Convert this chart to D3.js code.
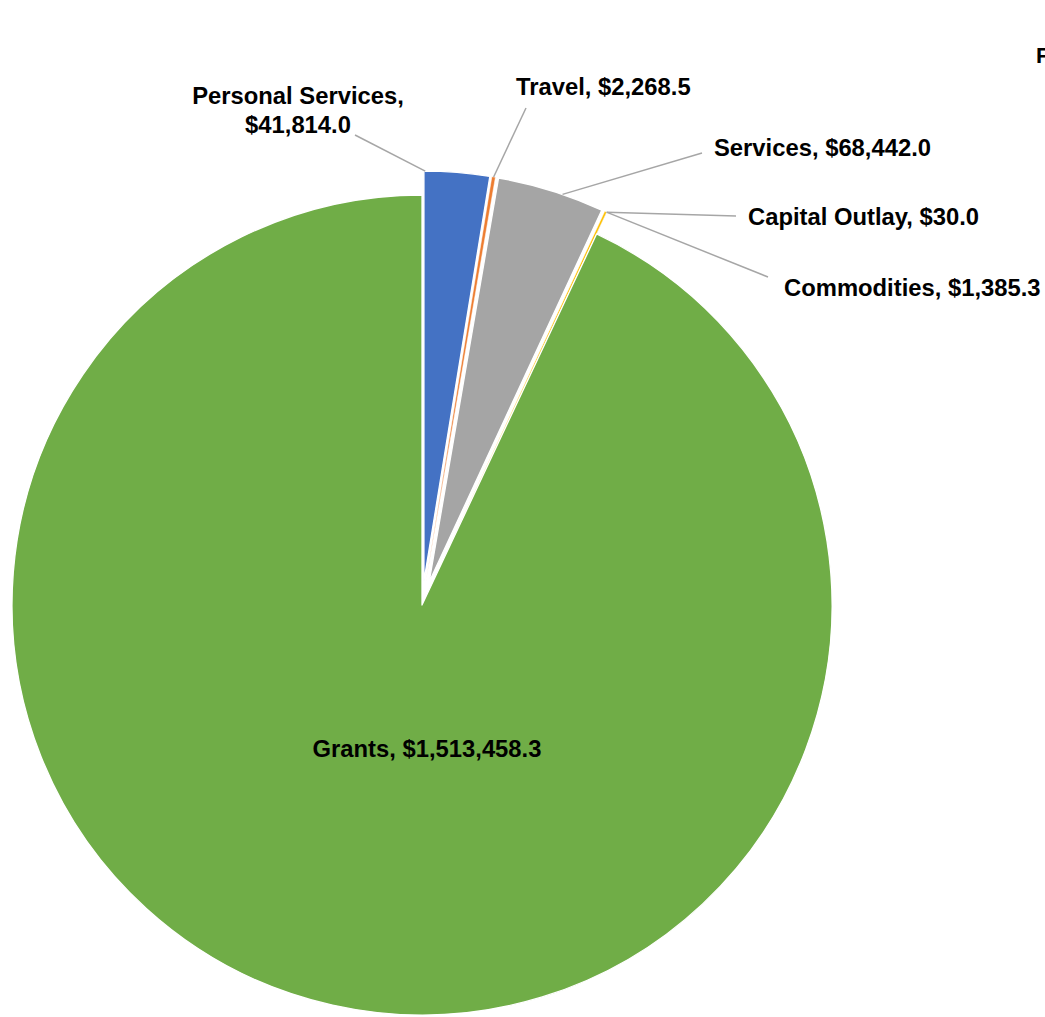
<!DOCTYPE html>
<html>
<head>
<meta charset="utf-8">
<script src="https://cdn.jsdelivr.net/npm/d3@7"></script>
<style>
  html, body { margin: 0; padding: 0; background: #fff; }
  svg { display: block; }
  .label { font-family: "Liberation Sans", Arial, sans-serif; font-weight: bold; font-size: 23.8px; fill: #000; }
  .leader { stroke: #a6a6a6; stroke-width: 1.5; fill: none; }
</style>
</head>
<body>
<svg id="chart" width="1045" height="1017"></svg>
<script>
// data, in drawing order (clockwise from 12 o'clock)
const categories = ["Personal Services", "Travel", "Services", "Commodities", "Capital Outlay", "Grants"];
const amounts = [41814.0, 2268.5, 68442.0, 1385.3, 30.0, 1513458.3];
const colors = ["#4472C4", "#ED7D31", "#A5A5A5", "#FFC000", "#5B9BD5", "#70AD47"];
const exploded = [true, true, true, true, true, false];

// label layout: text position, line breaks, where the leader leaves the text,
// and where along the slice (0 = start edge, 1 = end edge) it touches
const labelLayout = [
  { x: 298, y: 104, anchor: "middle", lines: 2, from: [355, 135], t: 0.02 },
  { x: 516, y: 95, anchor: "start", lines: 1, from: [526, 108], t: 0.5 },
  { x: 714, y: 156, anchor: "start", lines: 1, from: [702, 153], t: 0.61 },
  { x: 784, y: 296, anchor: "start", lines: 1, from: [768, 277], t: 0.9 },
  { x: 748, y: 225, anchor: "start", lines: 1, from: [736, 216], t: 0.5 },
  { x: 427, y: 757, anchor: "middle", lines: 1, from: null, t: 0.5 },
];

const svg = d3.select("#chart");
const cx = 422;
const cy = 605;
const radius = 410;
const explode = 24;

const fmt = d3.format(",.1f");
const slices = d3.pie().sort(null).value((d) => d.amount)(
  categories.map((name, i) => ({ name, amount: amounts[i], i })),
);

const arc = d3.arc().innerRadius(0).outerRadius(radius);

function offsetFor(slice) {
  if (!exploded[slice.data.i]) return [0, 0];
  const mid = (slice.startAngle + slice.endAngle) / 2;
  return [Math.sin(mid) * explode, -Math.cos(mid) * explode];
}

// thin slices get a thinner border so their colour still shows;
// a slice too thin to see gets none, so it does not hide its neighbour
function borderFor(slice) {
  const span = slice.endAngle - slice.startAngle;
  if (span < 0.001) return 0;
  if (span < 0.02) return 0.5;
  return 1.3;
}

const pieLayer = svg.append("g").attr("transform", `translate(${cx},${cy})`);

pieLayer
  .selectAll("path")
  .data(slices)
  .join("path")
  .attr("transform", (s) => `translate(${offsetFor(s)})`)
  .attr("d", arc)
  .attr("fill", (s) => colors[s.data.i])
  .attr("stroke", "#fff")
  .attr("stroke-width", borderFor)
  .attr("stroke-linejoin", "round");

// leader lines
const leaders = slices.filter((s) => labelLayout[s.data.i].from);
svg
  .append("g")
  .selectAll("line")
  .data(leaders)
  .join("line")
  .attr("class", "leader")
  .attr("x1", (s) => labelLayout[s.data.i].from[0])
  .attr("y1", (s) => labelLayout[s.data.i].from[1])
  .attr("x2", (s) => {
    const a = s.startAngle + (s.endAngle - s.startAngle) * labelLayout[s.data.i].t;
    return cx + offsetFor(s)[0] + Math.sin(a) * radius;
  })
  .attr("y2", (s) => {
    const a = s.startAngle + (s.endAngle - s.startAngle) * labelLayout[s.data.i].t;
    return cy + offsetFor(s)[1] - Math.cos(a) * radius;
  });

// data labels
const labels = svg
  .append("g")
  .selectAll("text")
  .data(slices)
  .join("text")
  .attr("class", "label")
  .attr("x", (s) => labelLayout[s.data.i].x)
  .attr("y", (s) => labelLayout[s.data.i].y)
  .attr("text-anchor", (s) => labelLayout[s.data.i].anchor);

labels.each(function (s) {
  const layout = labelLayout[s.data.i];
  const value = `$${fmt(s.data.amount)}`;
  const text = d3.select(this);
  if (layout.lines === 2) {
    text.append("tspan").attr("x", layout.x).text(`${s.data.name},`);
    text.append("tspan").attr("x", layout.x).attr("dy", 28.5).text(value);
  } else {
    text.text(`${s.data.name}, ${value}`);
  }
});

// chart title, cut off by the right edge of the picture as in the original
svg
  .append("text")
  .attr("class", "label")
  .attr("x", 1036)
  .attr("y", 63)
  .style("font-size", "22px")
  .text("F");
</script>
</body>
</html>
